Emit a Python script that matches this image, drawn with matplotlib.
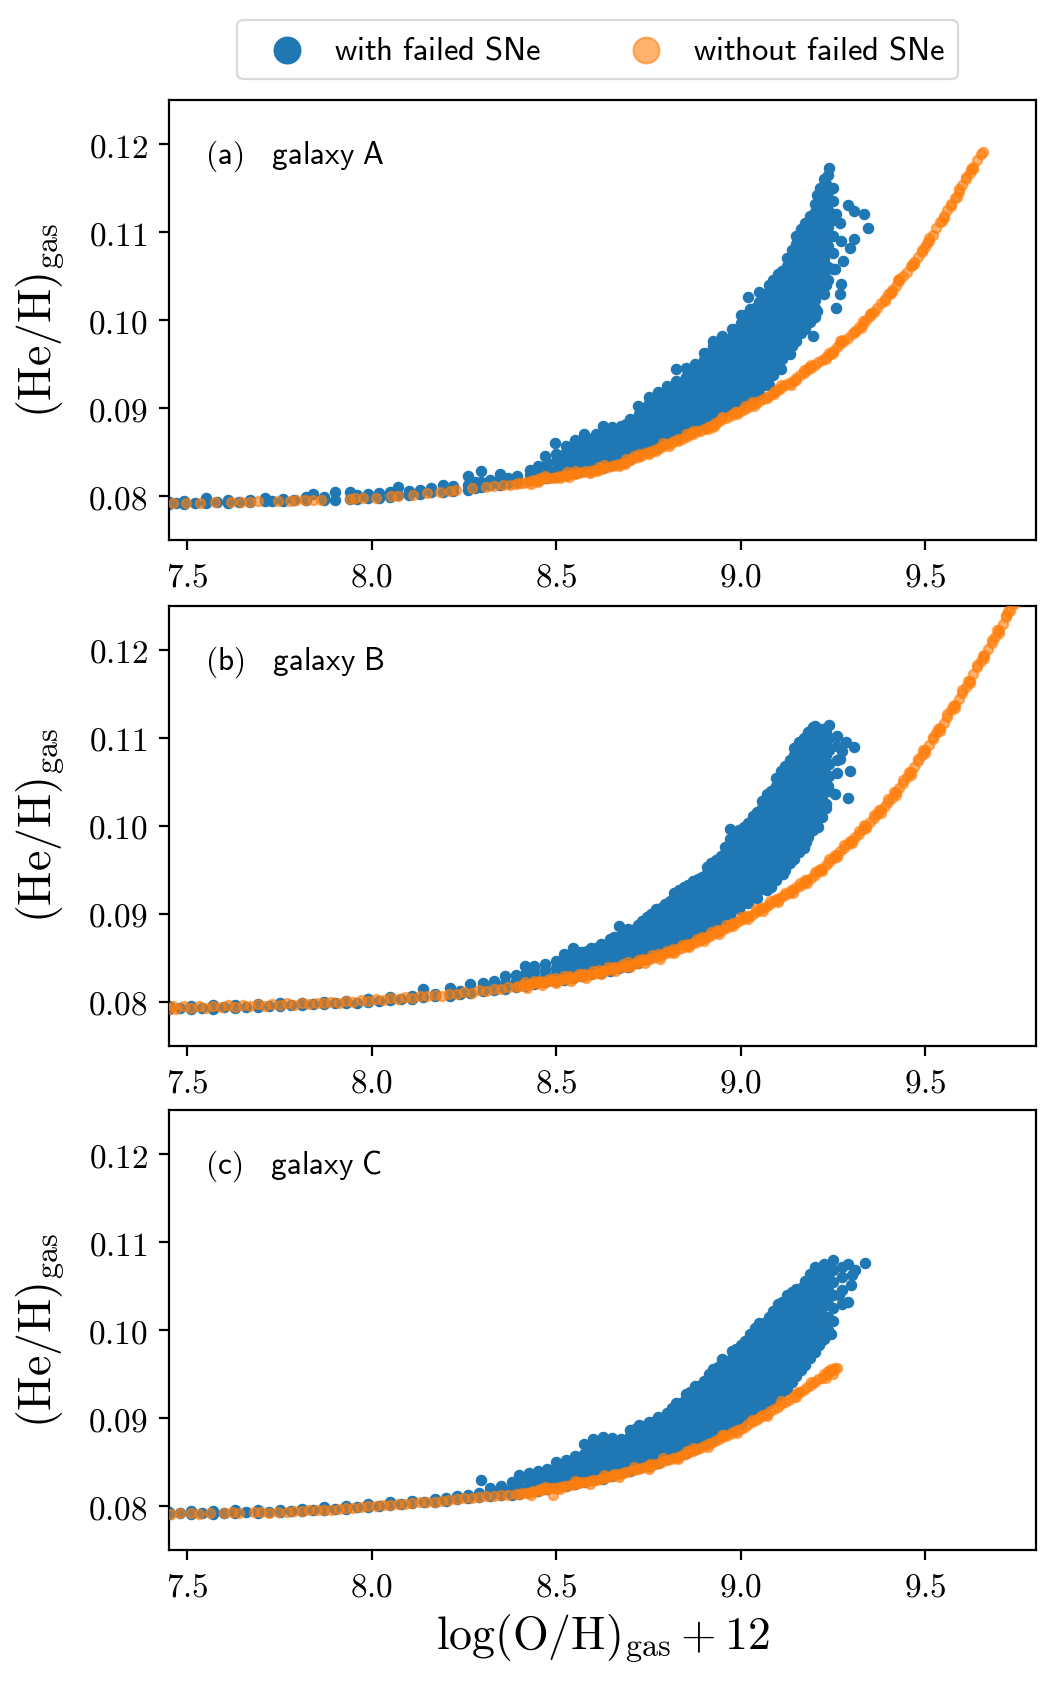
import matplotlib
matplotlib.use("Agg")
import matplotlib.pyplot as plt

plt.rcParams["mathtext.fontset"] = "cm"
plt.rcParams["font.family"] = ["DejaVu Sans"]

# ---------------------------------------------------------------- labels
XTICKS = [7.5, 8.0, 8.5, 9.0, 9.5]
XTICK_LABELS = ["7.5", "8.0", "8.5", "9.0", "9.5"]
YTICKS = [0.08, 0.09, 0.10, 0.11, 0.12]
YTICK_LABELS = ["0.08", "0.09", "0.10", "0.11", "0.12"]
PANEL_TAGS = ["(a)", "(b)", "(c)"]
GALAXIES = ["galaxy A", "galaxy B", "galaxy C"]
SERIES = ["with failed SNe", "without failed SNe"]

# ---------------------------------------------------------------- galaxy A
# with failed SNe: columns (x, [y values read at that x])
A_BLUE = [
    (7.450, [.0791, .0793]), (7.470, [.0792]), (7.490, [.0791, .0794]), (7.520, [.0792]),
    (7.551, [.0792, .0798]), (7.580, [.0793]), (7.610, [.0792, .0795]), (7.640, [.0793]),
    (7.670, [.0793, .0796]), (7.710, [.0794, .0798]), (7.730, [.0794]), (7.760, [.0794, .0797]),
    (7.790, [.0795]), (7.820, [.0795, .0799]), (7.840, [.0802]), (7.870, [.0796, .0799]),
    (7.899, [.0796, .0804]), (7.940, [.0797, .0805]), (7.960, [.0797, .0801]), (7.990, [.0798, .0802]),
    (8.020, [.0798, .0803]), (8.050, [.0799, .0804]), (8.071, [.0801, .0810]), (8.100, [.0801, .0806]),
    (8.130, [.0802, .0807]), (8.160, [.0804, .0809]), (8.193, [.0805, .0813]), (8.220, [.0806, .0811]),
    (8.260, [.0807, .0813, .0823]), (8.280, [.0809, .0816]), (8.297, [.0810, .0816, .0828]),
    (8.320, [.0812, .0818]), (8.346, [.0813, .0819, .0825]), (8.370, [.0815, .0821]),
    (8.392, [.0816, .0823]), (8.428, [.0818, .0824, .0830]),
    (8.450, [.0818, .0826, .0834]), (8.468, [.0845]), (8.475, [.0820, .0829, .0837]), (8.496, [.0860]),
    (8.500, [.0822, .0830, .0840, .0848]), (8.525, [.0824, .0832, .0841, .0850, .0857]),
    (8.550, [.0826, .0835, .0843, .0853, .0864]), (8.575, [.0828, .0838, .0846, .0854, .0862, .0870]),
    (8.600, [.0830, .0839, .0849, .0858, .0866]), (8.608, [.0870]),
    (8.625, [.0832, .0842, .0851, .0859, .0869, .0880]), (8.650, [.0835, .0844, .0853, .0863, .0871, .0878]),
    (8.676, [.0838, .0848, .0856, .0865, .0874, .0880]), (8.700, [.0842, .0851, .0861, .0869, .0878, .0887]),
    (8.721, [.0902]), (8.725, [.0847, .0856, .0864, .0874, .0883, .0893]),
    (8.750, [.0852, .0861, .0869, .0879, .0888, .0896, .0906, .0912]),
    (8.775, [.0856, .0865, .0875, .0883, .0893, .0902, .0910, .0918]),
    (8.800, [.0861, .0870, .0878, .0888, .0898, .0906, .0916, .0925]),
    (8.825, [.0866, .0875, .0885, .0893, .0903, .0911, .0921, .0931, .0944]),
    (8.850, [.0870, .0880, .0889, .0897, .0907, .0917, .0925, .0935, .0946]),
    (8.875, [.0875, .0884, .0894, .0904, .0912, .0922, .0930, .0940, .0950]),
    (8.900, [.0881, .0890, .0900, .0909, .0917, .0927, .0937, .0946, .0955, .0962]),
    (8.925, [.0886, .0896, .0904, .0914, .0924, .0933, .0943, .0951, .0961, .0970, .0976]),
    (8.950, [.0892, .0901, .0911, .0920, .0929, .0938, .0948, .0958, .0966, .0975, .0982]),
    (8.975, [.0897, .0907, .0916, .0925, .0934, .0944, .0954, .0963, .0971, .0981, .0990]),
    (9.000, [.0903, .0912, .0921, .0931, .0941, .0950, .0959, .0969, .0979, .0988, .0997, .1006]),
    (9.019, [.1026]),
    (9.025, [.0910, .0920, .0929, .0938, .0947, .0957, .0967, .0976, .0985, .0995, .1004, .1013]),
    (9.050, [.0916, .0925, .0935, .0945, .0954, .0964, .0974, .0983, .0992, .1002, .1012, .1021, .1032]),
    (9.075, [.0926, .0935, .0944, .0955, .0965, .0974, .0983, .0994, .1004, .1013, .1022, .1031, .1040]),
    (9.100, [.0944, .0953, .0963, .0972, .0983, .0993, .1002, .1013, .1022, .1032, .1042, .1052]),
    (9.125, [.0961, .0971, .0980, .0991, .1001, .1011, .1020, .1031, .1041, .1050, .1061, .1070]),
    (9.150, [.0976, .0986, .0995, .1006, .1016, .1025, .1036, .1046, .1055, .1066, .1076, .1086, .1096]),
    (9.175, [.0990, .1000, .1011, .1020, .1030, .1041, .1050, .1060, .1071, .1080, .1090, .1100, .1110]),
    (9.200, [.1003, .1014, .1023, .1033, .1044, .1053, .1063, .1074, .1083, .1093, .1104, .1113, .1123, .1132]),
    (9.215, [.1040, .1061, .1080, .1101, .1120, .1139, .1150]),
    (9.225, [.1030, .1051, .1069, .1090, .1110, .1129, .1145, .1160]),
    (9.235, [.1060, .1084, .1106, .1125, .1146, .1165]), (9.240, [.1173]),
    (9.250, [.1058, .1076, .1095, .1114, .1135, .1150]),
    (9.272, [.1041, .1090]), (9.268, [.1029, .1110]), (9.259, [.1014, .1120]), (9.222, [.1031]),
    (9.195, [.0982]), (9.164, [.0987]), (9.137, [.0976]), (9.132, [.0961]), (9.110, [.0944]),
    (9.046, [.0934]), (9.042, [.0914]), (9.015, [.0919]), (9.236, [.1046]), (9.254, [.1058]),
    (9.290, [.1131]), (9.308, [.1124, .1092]), (9.335, [.1120]), (9.344, [.1104]),
    (9.295, [.1082]), (9.277, [.1067]),
]
# denser interior of the galaxy A cloud
A_BLUE_CORE = [
    (8.5125, [.0827, .0836, .0845]), (8.5375, [.0829, .0838, .0847, .0856]),
    (8.5625, [.0831, .0840, .0849, .0858]), (8.5875, [.0834, .0843, .0851, .0860]),
    (8.6125, [.0836, .0845, .0854, .0863]), (8.6375, [.0838, .0847, .0856, .0865, .0873]),
    (8.6625, [.0841, .0850, .0859, .0868, .0875]), (8.6875, [.0845, .0855, .0864, .0873, .0882]),
    (8.7125, [.0849, .0858, .0867, .0876, .0885]), (8.7375, [.0854, .0864, .0872, .0881, .0890, .0900]),
    (8.7625, [.0859, .0868, .0877, .0887, .0896, .0905]),
    (8.7875, [.0863, .0872, .0881, .0891, .0900, .0909, .0917]),
    (8.8125, [.0868, .0877, .0886, .0896, .0905, .0914, .0922]),
    (8.8375, [.0872, .0882, .0891, .0901, .0910, .0920, .0930]),
    (8.8625, [.0877, .0886, .0895, .0905, .0914, .0924, .0934, .0942]),
    (8.8875, [.0882, .0892, .0901, .0911, .0920, .0930, .0940, .0949]),
    (8.9125, [.0888, .0897, .0907, .0916, .0926, .0935, .0945, .0955, .0963]),
    (8.9375, [.0894, .0903, .0913, .0922, .0932, .0941, .0951, .0961, .0970]),
    (8.9625, [.0899, .0909, .0918, .0928, .0937, .0947, .0957, .0966, .0976]),
    (8.9875, [.0905, .0914, .0924, .0934, .0943, .0953, .0963, .0972, .0982, .0990]),
    (9.0125, [.0912, .0921, .0931, .0941, .0950, .0960, .0970, .0979, .0989, .0999, .1006]),
    (9.0375, [.0918, .0928, .0937, .0947, .0957, .0966, .0976, .0986, .0995, .1005, .1014]),
    (9.0625, [.0926, .0935, .0945, .0955, .0964, .0974, .0984, .0993, .1003, .1013, .1022, .1030]),
    (9.0875, [.0938, .0948, .0958, .0968, .0978, .0988, .0998, .1008, .1018, .1028, .1037, .1045]),
    (9.1125, [.0956, .0966, .0976, .0986, .0996, .1006, .1016, .1026, .1036, .1046, .1056]),
    (9.1375, [.0971, .0981, .0991, .1001, .1011, .1021, .1031, .1041, .1051, .1061, .1071, .1080]),
    (9.1625, [.0985, .0995, .1005, .1015, .1025, .1035, .1045, .1055, .1065, .1075, .1085, .1095, .1103]),
    (9.1875, [.0998, .1008, .1018, .1028, .1038, .1048, .1058, .1068, .1078, .1088, .1098, .1108, .1118]),
    (9.2075, [.1010, .1030, .1050, .1070, .1090, .1110, .1130, .1142]),
    (9.2300, [.1040, .1060, .1080, .1100, .1120, .1140, .1155]),
]
# without failed SNe: (x, y) points
A_ORANGE = [
    (7.462, .07920), (7.497, .07922), (7.533, .07925), (7.574, .07930), (7.619, .07930), (7.646, .07932),
    (7.669, .07936), (7.691, .07940), (7.746, .07942), (7.777, .07946), (7.795, .07950), (7.818, .07952),
    (7.840, .07958), (7.863, .07960), (7.940, .07968), (7.953, .07972), (7.976, .07978), (8.012, .07982),
    (8.053, .07995), (8.071, .08000), (8.111, .08015), (8.148, .08030), (8.184, .08048), (8.211, .08060),
    (8.229, .08068), (8.270, .08088), (8.310, .08100), (8.330, .08112), (8.355, .08120), (8.375, .08130),
    (8.391, .08138),
    (8.40, .0815), (8.41, .08148), (8.42, .0816), (8.43, .0817), (8.44, .08185), (8.45, .0818), (8.46, .0819),
    (8.47, .08205), (8.48, .0820), (8.49, .0821), (8.50, .0822), (8.51, .08225), (8.52, .0823), (8.53, .0824),
    (8.54, .0825), (8.55, .08245), (8.56, .0826), (8.57, .0827), (8.58, .0828), (8.59, .08275), (8.60, .0829),
    (8.61, .0830), (8.62, .0831), (8.63, .0832), (8.64, .08335), (8.65, .0834), (8.66, .0835), (8.67, .0836),
    (8.68, .0838), (8.69, .08385), (8.70, .0841), (8.71, .0843), (8.72, .0844), (8.73, .0846), (8.74, .08485),
    (8.75, .0850), (8.76, .0851), (8.77, .0853), (8.78, .0855), (8.79, .0857), (8.80, .0859), (8.81, .0860),
    (8.82, .0862), (8.83, .08645), (8.84, .0865), (8.85, .0867), (8.86, .0869), (8.87, .0871), (8.88, .08735),
    (8.89, .0874), (8.90, .0876), (8.91, .0878), (8.92, .0880), (8.93, .0883), (8.94, .0885), (8.95, .0887),
    (8.96, .08885), (8.97, .0891), (8.98, .0893), (8.99, .0895), (9.00, .0897), (9.01, .0899), (9.02, .0901),
    (9.03, .0904), (9.04, .0906), (9.05, .0908), (9.06, .0910), (9.07, .0913), (9.08, .0915), (9.09, .0918),
    (9.10, .0920), (9.11, .0923), (9.12, .0926), (9.13, .0928), (9.14, .0931), (9.15, .0934), (9.16, .0937),
    (9.17, .0940), (9.18, .0943), (9.19, .0946), (9.20, .0949), (9.21, .0952), (9.22, .0955), (9.23, .0958),
    (9.24, .0962), (9.25, .0965), (9.26, .0969), (9.27, .0973), (9.28, .0976), (9.29, .0980), (9.30, .0984),
    (9.31, .0988), (9.32, .0992), (9.33, .0996), (9.34, .1000), (9.35, .1004), (9.36, .1009), (9.37, .1014),
    (9.38, .1019), (9.39, .1024), (9.40, .1029), (9.41, .1034), (9.42, .1039), (9.43, .1044), (9.44, .1050),
    (9.45, .1055), (9.46, .1061), (9.47, .1066), (9.48, .1072), (9.49, .1077), (9.50, .1083), (9.51, .1090),
    (9.52, .1097), (9.53, .1104), (9.54, .1111), (9.55, .1118), (9.56, .1125), (9.57, .1132), (9.58, .1139),
    (9.59, .1146), (9.60, .1153), (9.61, .1160), (9.62, .1167), (9.63, .1174), (9.64, .1182), (9.65, .1189),
    (8.455, .0821), (8.535, .0822), (8.615, .0833), (8.685, .0836), (8.725, .0848), (8.805, .0857),
    (8.865, .0872), (8.925, .0878), (8.985, .0896), (9.035, .0902), (9.095, .0921), (9.135, .0926),
    (9.185, .0947), (9.245, .0961), (9.275, .0977), (9.325, .0991), (9.355, .1008), (9.405, .1030),
    (9.425, .1045), (9.465, .1062), (9.505, .1088), (9.545, .1113), (9.585, .1140), (9.625, .1172),
    (9.655, .1191),
]
# points lying off the middle of the galaxy A band (its width)
A_ORANGE_SPREAD = [
    (8.43, .0814), (8.47, .0823), (8.51, .0820), (8.55, .0828), (8.59, .0826), (8.63, .0835), (8.67, .0834),
    (8.71, .0846), (8.75, .0848), (8.79, .0860), (8.83, .0862), (8.87, .0874), (8.91, .0876), (8.95, .0890),
    (8.99, .0893), (9.03, .0907), (9.07, .0911), (9.11, .0926), (9.15, .0932), (9.19, .0949), (9.23, .0956),
    (9.27, .0976), (9.31, .0986), (9.35, .1007), (9.39, .1022), (9.43, .1047), (9.47, .1064), (9.51, .1093),
    (9.55, .1116), (9.59, .1149), (9.63, .1172),
    (8.45, .0816), (8.53, .0827), (8.61, .0828), (8.69, .0842), (8.77, .0851), (8.85, .0870), (8.93, .0881),
    (9.01, .0902), (9.09, .0916), (9.17, .0943), (9.25, .0963), (9.33, .0999), (9.41, .1032), (9.49, .1080),
    (9.57, .1130), (9.61, .1163),
]

# ---------------------------------------------------------------- galaxy B
B_BLUE = [
    (7.45, [.0792, .0795]), (7.48, [.0793]), (7.51, [.0792, .0795]), (7.54, [.0793]), (7.57, [.0792, .0796]),
    (7.60, [.0794]), (7.63, [.0793, .0796]), (7.66, [.0794]), (7.69, [.0794, .0797]), (7.72, [.0795]),
    (7.75, [.0795, .0798]), (7.78, [.0796]), (7.81, [.0796, .0799]), (7.84, [.0797]), (7.87, [.0797, .0800]),
    (7.90, [.0798]), (7.93, [.0799, .0801]), (7.96, [.0799]), (7.99, [.0800, .0803]), (8.02, [.0801]),
    (8.05, [.0802, .0805]), (8.08, [.0803]), (8.11, [.0803, .0807]), (8.139, [.0805, .0814]),
    (8.17, [.0806, .0809]), (8.211, [.0807, .0816]), (8.24, [.0809, .0812]), (8.265, [.0810, .0820]),
    (8.30, [.0812, .0816, .0821]), (8.33, [.0813, .0818, .0823]), (8.36, [.0815, .0821, .0829]),
    (8.39, [.0817, .0824, .0830]), (8.414, [.0818, .0825, .0832, .0841]), (8.44, [.0820, .0827, .0834, .0841]),
    (8.47, [.0822, .0829, .0836, .0843]), (8.50, [.0824, .0831, .0838, .0846]),
    (8.52, [.0825, .0833, .0841, .0849, .0854]), (8.545, [.0827, .0835, .0844, .0852, .0861]),
    (8.57, [.0829, .0837, .0846, .0856]), (8.595, [.0831, .0839, .0848, .0855, .0861]),
    (8.62, [.0833, .0842, .0850, .0858, .0866]), (8.645, [.0835, .0843, .0852, .0862, .0871]),
    (8.67, [.0838, .0846, .0855, .0864, .0873, .0886]), (8.695, [.0840, .0849, .0857, .0866, .0875, .0883]),
    (8.72, [.0844, .0851, .0860, .0869, .0879, .0887]), (8.745, [.0848, .0855, .0864, .0872, .0881, .0890, .0896]),
    (8.77, [.0856, .0862, .0869, .0878, .0887, .0896, .0905]),
    (8.795, [.0862, .0869, .0876, .0885, .0894, .0903, .0911]),
    (8.82, [.0866, .0874, .0883, .0892, .0901, .0910, .0918, .0924]),
    (8.845, [.0870, .0878, .0887, .0896, .0905, .0915, .0923, .0930]),
    (8.87, [.0875, .0884, .0893, .0902, .0912, .0920, .0929, .0937]),
    (8.895, [.0880, .0889, .0898, .0907, .0916, .0925, .0935, .0942]),
    (8.92, [.0886, .0895, .0904, .0913, .0922, .0931, .0940, .0950, .0958]),
    (8.945, [.0892, .0901, .0910, .0919, .0928, .0938, .0946, .0955, .0966]),
    (8.97, [.0898, .0907, .0916, .0925, .0934, .0943, .0952, .0962, .0970, .0985, .0996]),
    (8.995, [.0905, .0914, .0923, .0932, .0941, .0950, .0960, .0968, .0977, .0986, .0995]),
    (9.02, [.0912, .0921, .0930, .0939, .0948, .0958, .0966, .0975, .0984, .0994, .1003]),
    (9.045, [.0918, .0927, .0936, .0945, .0955, .0963, .0972, .0981, .0991, .0999, .1008, .1016]),
    (9.07, [.0927, .0934, .0943, .0952, .0961, .0971, .0979, .0988, .0997, .1007, .1015, .1024, .1036]),
    (9.095, [.0938, .0945, .0954, .0963, .0973, .0981, .0990, .0999, .1009, .1017, .1026, .1035, .1045, .1054]),
    (9.12, [.0950, .0959, .0968, .0978, .0986, .0995, .1005, .1013, .1022, .1031, .1041, .1049, .1058, .1068]),
    (9.145, [.0962, .0971, .0980, .0990, .0998, .1007, .1017, .1025, .1034, .1044, .1052, .1061, .1071, .1080, .1088]),
    (9.17, [.0975, .0984, .0993, .1003, .1011, .1020, .1030, .1038, .1047, .1057, .1065, .1074, .1084, .1092, .1100]),
    (9.195, [.0995, .1004, .1014, .1022, .1031, .1041, .1049, .1058, .1068, .1076, .1085, .1095, .1103, .1112]),
    (9.22, [.1010, .1021, .1030, .1040, .1051, .1060, .1070, .1081, .1090, .1100, .1110]),
    (9.24, [.1040, .1056, .1070, .1086, .1100, .1115]), (9.26, [.1060, .1075, .1091, .1102]),
    (9.308, [.1089]), (9.286, [.1095]), (9.295, [.1062]), (9.290, [.1032]), (9.254, [.1036]),
    (9.236, [.1045]), (9.268, [.1076]), (9.275, [.1085]), (9.200, [.1113]), (9.177, [.0981]),
    (9.195, [.1006]), (9.114, [.0945]), (9.083, [.0930]), (9.033, [.0920]), (8.997, [.0909]),
    (8.915, [.0886]), (9.210, [.0998]), (9.230, [.1020]),
]
B_BLUE_CORE = [
    (8.5325, [.0829, .0837, .0845, .0852]), (8.5575, [.0831, .0840, .0848, .0856]),
    (8.5825, [.0833, .0842, .0850, .0858]), (8.6075, [.0835, .0844, .0853, .0861]),
    (8.6325, [.0837, .0846, .0855, .0864]), (8.6575, [.0840, .0849, .0858, .0867, .0874]),
    (8.6825, [.0843, .0852, .0861, .0870, .0879]), (8.7075, [.0846, .0855, .0864, .0873, .0882]),
    (8.7325, [.0850, .0859, .0868, .0877, .0886, .0892]), (8.7575, [.0858, .0866, .0874, .0883, .0892, .0900]),
    (8.7825, [.0864, .0872, .0880, .0889, .0898, .0907]), (8.8075, [.0868, .0878, .0887, .0896, .0905, .0914]),
    (8.8325, [.0872, .0882, .0891, .0900, .0910, .0919, .0927]),
    (8.8575, [.0877, .0887, .0896, .0906, .0915, .0925, .0933]),
    (8.8825, [.0882, .0892, .0902, .0911, .0921, .0930, .0939]),
    (8.9075, [.0888, .0898, .0908, .0917, .0927, .0936, .0946, .0953]),
    (8.9325, [.0894, .0904, .0914, .0923, .0933, .0942, .0951, .0961]),
    (8.9575, [.0900, .0910, .0920, .0929, .0939, .0948, .0957, .0967, .0976]),
    (8.9825, [.0907, .0917, .0927, .0936, .0946, .0955, .0964, .0973, .0982, .0991]),
    (9.0075, [.0914, .0924, .0934, .0943, .0953, .0962, .0971, .0980, .0989, .0998]),
    (9.0325, [.0921, .0931, .0941, .0950, .0959, .0968, .0977, .0986, .0995, .1004, .1011]),
    (9.0575, [.0928, .0938, .0948, .0957, .0966, .0975, .0984, .0993, .1002, .1011, .1020, .1028]),
    (9.0825, [.0936, .0946, .0956, .0965, .0974, .0983, .0992, .1001, .1011, .1020, .1029, .1040]),
    (9.1075, [.0946, .0955, .0964, .0973, .0982, .0991, .1000, .1009, .1018, .1027, .1036, .1045, .1054, .1062]),
    (9.1325, [.0958, .0967, .0976, .0985, .0994, .1003, .1012, .1021, .1030, .1039, .1048, .1057, .1066, .1075]),
    (9.1575, [.0970, .0979, .0988, .0997, .1006, .1015, .1024, .1033, .1042, .1051, .1060, .1069, .1078, .1088, .1095]),
    (9.1825, [.0987, .0996, .1005, .1014, .1023, .1032, .1041, .1050, .1059, .1068, .1077, .1086, .1096, .1106]),
    (9.2075, [.1005, .1015, .1025, .1035, .1045, .1055, .1065, .1075, .1085, .1095, .1105]),
    (9.2300, [.1025, .1040, .1055, .1068, .1080, .1093, .1106]),
]
B_ORANGE = [
    (7.45, .0792), (7.46, .0795), (7.47, .0792), (7.49, .0795), (7.51, .0793), (7.53, .0795), (7.55, .0793),
    (7.57, .0795), (7.59, .0794), (7.61, .0796), (7.63, .0794), (7.65, .0796), (7.67, .0795), (7.69, .0797),
    (7.71, .0795), (7.73, .0797), (7.75, .0796), (7.77, .0798), (7.79, .0796), (7.81, .0799), (7.83, .0797),
    (7.85, .0799), (7.87, .0798), (7.89, .0800), (7.91, .0799), (7.93, .0801), (7.95, .0800), (7.97, .0802),
    (7.99, .0801), (8.01, .0803), (8.03, .0802), (8.05, .0804), (8.07, .0803), (8.09, .0805), (8.11, .0804),
    (8.13, .0806), (8.15, .0806), (8.17, .0808), (8.19, .0807), (8.21, .0809), (8.23, .0809), (8.25, .0811),
    (8.27, .0810), (8.29, .0813), (8.31, .0812), (8.33, .0815), (8.35, .0814), (8.37, .0817), (8.39, .0817),
    (8.40, .0818), (8.41, .0819), (8.42, .0819), (8.43, .0820), (8.44, .0821), (8.45, .0821), (8.46, .0822),
    (8.47, .0822), (8.48, .0823), (8.49, .0823), (8.50, .0824), (8.51, .0825), (8.52, .0826), (8.53, .0826),
    (8.54, .0827), (8.55, .0828), (8.56, .0829), (8.57, .0829), (8.58, .0830), (8.59, .0831), (8.60, .0832),
    (8.61, .0833), (8.62, .0834), (8.63, .0835), (8.64, .0836), (8.65, .0837), (8.66, .0838), (8.67, .0839),
    (8.68, .0840), (8.69, .0841), (8.70, .0842), (8.71, .0843), (8.72, .0844), (8.73, .0846), (8.74, .0847),
    (8.75, .0848), (8.76, .0850), (8.77, .0851), (8.78, .0852), (8.79, .0854), (8.80, .0855), (8.81, .0857),
    (8.82, .0858), (8.83, .0860), (8.84, .0861), (8.85, .0863), (8.86, .0865), (8.87, .0867), (8.88, .0868),
    (8.89, .0870), (8.90, .0872), (8.91, .0874), (8.92, .0876), (8.93, .0878), (8.94, .0880), (8.95, .0882),
    (8.96, .0884), (8.97, .0886), (8.98, .0889), (8.99, .0891), (9.00, .0893), (9.01, .0895), (9.02, .0897),
    (9.03, .0899), (9.04, .0902), (9.05, .0904), (9.06, .0906), (9.07, .0909), (9.08, .0911), (9.09, .0914),
    (9.10, .0916), (9.11, .0919), (9.12, .0921), (9.13, .0924), (9.14, .0927), (9.15, .0930), (9.16, .0932),
    (9.17, .0935), (9.18, .0938), (9.19, .0941), (9.20, .0944), (9.21, .0948), (9.22, .0951), (9.23, .0955),
    (9.24, .0959), (9.25, .0963), (9.26, .0967), (9.27, .0971), (9.28, .0975), (9.29, .0979), (9.30, .0983),
    (9.31, .0987), (9.32, .0991), (9.33, .0996), (9.34, .1000), (9.35, .1004), (9.36, .1009), (9.37, .1013),
    (9.38, .1018), (9.39, .1022), (9.40, .1027), (9.41, .1032), (9.42, .1038), (9.43, .1043), (9.44, .1049),
    (9.45, .1055), (9.46, .1061), (9.47, .1067), (9.48, .1073), (9.49, .1080), (9.50, .1086), (9.51, .1092),
    (9.52, .1098), (9.53, .1105), (9.54, .1111), (9.55, .1117), (9.56, .1124), (9.57, .1131), (9.58, .1137),
    (9.59, .1144), (9.60, .1151), (9.61, .1158), (9.62, .1165), (9.63, .1172), (9.64, .1180), (9.65, .1187),
    (9.66, .1194), (9.67, .1201), (9.68, .1208), (9.69, .1215), (9.70, .1222), (9.71, .1229), (9.72, .1237),
    (9.73, .1244), (9.74, .1252),
    (8.415, .0822), (8.455, .0824), (8.495, .0827), (8.535, .0829), (8.575, .0832), (8.615, .0836),
    (8.655, .0840), (8.695, .0845), (8.735, .0849), (8.775, .0854), (8.815, .0860), (8.855, .0866),
    (8.895, .0874), (8.935, .0881), (8.975, .0888), (9.015, .0897), (9.055, .0906), (9.095, .0917),
    (9.135, .0927), (9.175, .0938), (9.215, .0951), (9.255, .0967), (9.295, .0983), (9.335, .1001),
    (9.375, .1018), (9.415, .1038), (9.455, .1061), (9.495, .1086), (9.535, .1110), (9.575, .1136),
    (9.615, .1164), (9.655, .1193), (9.695, .1222), (9.725, .1244),
]
B_ORANGE_SPREAD = [
    (8.42, .0816), (8.46, .0819), (8.50, .0821), (8.54, .0824), (8.58, .0827), (8.62, .0831), (8.66, .0835),
    (8.70, .0839), (8.74, .0844), (8.78, .0849), (8.82, .0855), (8.86, .0862), (8.90, .0869), (8.94, .0877),
    (8.98, .0886), (9.02, .0894), (9.06, .0903), (9.10, .0913), (9.14, .0924), (9.18, .0935), (9.22, .0948),
    (9.26, .0964), (9.30, .0980), (9.34, .0997), (9.38, .1015), (9.42, .1035), (9.46, .1058), (9.50, .1083),
    (9.54, .1108), (9.58, .1134), (9.62, .1162), (9.66, .1191), (9.70, .1219),
    (8.44, .0824), (8.48, .0826), (8.52, .0829), (8.56, .0832), (8.60, .0835), (8.64, .0839), (8.68, .0843),
    (8.72, .0847), (8.76, .0853), (8.80, .0858), (8.84, .0864), (8.88, .0871), (8.92, .0879), (8.96, .0887),
    (9.00, .0896), (9.04, .0905), (9.08, .0914), (9.12, .0924), (9.16, .0935), (9.20, .0947), (9.24, .0962),
    (9.28, .0978), (9.32, .0994), (9.36, .1012), (9.40, .1030), (9.44, .1052), (9.48, .1076), (9.52, .1101),
    (9.56, .1127), (9.60, .1154), (9.64, .1183), (9.68, .1211), (9.72, .1240),
]

# ---------------------------------------------------------------- galaxy C
C_BLUE = [
    (7.45, [.0791, .0793]), (7.48, [.0792]), (7.51, [.0791, .0794]), (7.54, [.0792]), (7.57, [.0791, .0794]),
    (7.60, [.0792]), (7.63, [.0792, .0795]), (7.66, [.0793]), (7.69, [.0792, .0795]), (7.72, [.0793]),
    (7.75, [.0793, .0796]), (7.78, [.0794]), (7.81, [.0794, .0797]), (7.84, [.0795]), (7.87, [.0796, .0799]),
    (7.90, [.0797]), (7.93, [.0797, .0800]), (7.96, [.0799]), (7.99, [.0799, .0802]), (8.02, [.0800]),
    (8.05, [.0801, .0804]), (8.08, [.0802]), (8.11, [.0803, .0806]), (8.14, [.0804]), (8.17, [.0805, .0808]),
    (8.20, [.0806, .0809]), (8.23, [.0808, .0811]), (8.26, [.0809, .0813]), (8.297, [.0829]),
    (8.29, [.0810, .0815]), (8.32, [.0811, .0816, .0821]), (8.35, [.0812, .0818, .0823]),
    (8.38, [.0813, .0820, .0827]), (8.40, [.0814, .0822, .0829, .0835]), (8.425, [.0816, .0823, .0830, .0837]),
    (8.45, [.0817, .0824, .0832, .0840]), (8.475, [.0819, .0826, .0834, .0842]),
    (8.50, [.0821, .0828, .0836, .0844, .0850]), (8.525, [.0823, .0830, .0838, .0846, .0852]),
    (8.55, [.0825, .0833, .0841, .0849, .0857]), (8.575, [.0827, .0835, .0843, .0851, .0859, .0870]),
    (8.60, [.0829, .0837, .0845, .0853, .0861, .0869, .0876]),
    (8.625, [.0831, .0839, .0848, .0856, .0864, .0872, .0878]),
    (8.65, [.0834, .0842, .0850, .0858, .0866, .0873, .0877]),
    (8.675, [.0837, .0845, .0853, .0861, .0869, .0876]),
    (8.70, [.0840, .0848, .0856, .0864, .0872, .0880, .0886]),
    (8.725, [.0843, .0851, .0859, .0868, .0876, .0884, .0892]),
    (8.75, [.0846, .0854, .0863, .0871, .0880, .0888, .0896]),
    (8.775, [.0849, .0857, .0866, .0875, .0884, .0892, .0901]),
    (8.80, [.0853, .0861, .0870, .0879, .0888, .0897, .0906]),
    (8.825, [.0856, .0865, .0874, .0883, .0892, .0901, .0910, .0917]),
    (8.85, [.0860, .0869, .0878, .0887, .0896, .0905, .0914, .0923, .0927]),
    (8.875, [.0865, .0874, .0883, .0892, .0901, .0910, .0919, .0928, .0936]),
    (8.90, [.0870, .0879, .0888, .0897, .0906, .0915, .0924, .0933, .0942]),
    (8.925, [.0875, .0884, .0893, .0902, .0911, .0920, .0929, .0938, .0947, .0956]),
    (8.95, [.0881, .0890, .0899, .0908, .0917, .0926, .0935, .0944, .0953, .0962, .0967]),
    (8.975, [.0887, .0896, .0905, .0914, .0923, .0932, .0941, .0950, .0959, .0968, .0976]),
    (9.00, [.0893, .0902, .0911, .0920, .0929, .0938, .0947, .0956, .0965, .0974, .0983]),
    (9.025, [.0905, .0914, .0923, .0932, .0941, .0950, .0959, .0968, .0977, .0986, .0995]),
    (9.05, [.0910, .0919, .0928, .0937, .0946, .0955, .0964, .0973, .0982, .0991, .1000, .1008]),
    (9.075, [.0917, .0926, .0935, .0944, .0953, .0962, .0971, .0980, .0989, .0998, .1007, .1015]),
    (9.10, [.0925, .0934, .0943, .0952, .0961, .0970, .0979, .0988, .0997, .1006, .1015, .1024, .1030]),
    (9.125, [.0933, .0942, .0951, .0960, .0969, .0978, .0987, .0996, .1005, .1014, .1023, .1032, .1040]),
    (9.15, [.0948, .0957, .0966, .0975, .0984, .0993, .1002, .1011, .1020, .1029, .1038, .1047]),
    (9.175, [.0960, .0969, .0978, .0987, .0996, .1005, .1014, .1023, .1032, .1041, .1050, .1056]),
    (9.20, [.0975, .0985, .0995, .1005, .1015, .1025, .1035, .1045, .1055, .1065, .1072]),
    (9.225, [.0990, .1003, .1015, .1027, .1039, .1051, .1063, .1075]),
    (9.25, [.1010, .1025, .1040, .1055, .1068, .1079]), (9.275, [.1030, .1045, .1060, .1072]),
    (9.336, [.1076]), (9.290, [.1075, .1032]), (9.299, [.1051]), (9.245, [.0995]), (9.223, [.1013]),
    (9.218, [.0988]), (9.168, [.0961]), (9.141, [.0946]), (9.123, [.0933]), (9.101, [.0925]),
    (9.024, [.0905]), (8.988, [.0893]), (9.300, [.1062]), (9.310, [.1068]), (9.265, [.1040]),
]
C_BLUE_CORE = [
    (8.5125, [.0825, .0832, .0840, .0847]), (8.5375, [.0827, .0835, .0843, .0850]),
    (8.5625, [.0829, .0837, .0845, .0853]), (8.5875, [.0831, .0839, .0848, .0856, .0864]),
    (8.6125, [.0833, .0841, .0850, .0858, .0866]), (8.6375, [.0836, .0844, .0852, .0861, .0869]),
    (8.6625, [.0839, .0847, .0855, .0863, .0870]), (8.6875, [.0842, .0850, .0859, .0867, .0875]),
    (8.7125, [.0845, .0853, .0862, .0871, .0879, .0887]), (8.7375, [.0848, .0857, .0865, .0874, .0883, .0891]),
    (8.7625, [.0851, .0860, .0869, .0878, .0887, .0896]), (8.7875, [.0855, .0864, .0873, .0882, .0891, .0900]),
    (8.8125, [.0858, .0867, .0876, .0886, .0895, .0904, .0911]),
    (8.8375, [.0862, .0871, .0880, .0890, .0899, .0908, .0917]),
    (8.8625, [.0866, .0876, .0885, .0894, .0903, .0913, .0922, .0930]),
    (8.8875, [.0871, .0880, .0890, .0899, .0908, .0918, .0927, .0936]),
    (8.9125, [.0876, .0886, .0895, .0905, .0914, .0924, .0933, .0942, .0950]),
    (8.9375, [.0882, .0892, .0901, .0911, .0920, .0930, .0939, .0949, .0958]),
    (8.9625, [.0888, .0898, .0907, .0917, .0926, .0936, .0945, .0955, .0964]),
    (8.9875, [.0894, .0904, .0913, .0923, .0932, .0942, .0951, .0961, .0970, .0978]),
    (9.0125, [.0901, .0910, .0920, .0929, .0939, .0948, .0958, .0967, .0977, .0987]),
    (9.0375, [.0908, .0917, .0927, .0936, .0946, .0955, .0965, .0974, .0984, .0994, .1002]),
    (9.0625, [.0914, .0923, .0933, .0942, .0952, .0961, .0971, .0980, .0990, .1000, .1008]),
    (9.0875, [.0921, .0930, .0940, .0949, .0959, .0968, .0978, .0987, .0997, .1006, .1015, .1022]),
    (9.1125, [.0930, .0939, .0949, .0958, .0968, .0977, .0987, .0996, .1006, .1015, .1025, .1032]),
    (9.1375, [.0941, .0950, .0960, .0969, .0979, .0988, .0998, .1007, .1017, .1026, .1036, .1043]),
    (9.1625, [.0954, .0963, .0973, .0982, .0992, .1001, .1011, .1020, .1030, .1039, .1048]),
    (9.1875, [.0968, .0978, .0988, .0998, .1008, .1018, .1028, .1038, .1048, .1058, .1064]),
    (9.2125, [.0983, .0995, .1007, .1019, .1031, .1043, .1055, .1067]),
    (9.2375, [.1000, .1015, .1030, .1045, .1060, .1072]),
]
C_ORANGE = [
    (7.455, .0791), (7.480, .0792), (7.510, .0792), (7.530, .0791), (7.560, .0792), (7.600, .0792),
    (7.620, .0793), (7.640, .0792), (7.680, .0793), (7.700, .0793), (7.720, .0792), (7.745, .0793),
    (7.770, .0793), (7.790, .0794), (7.810, .0794), (7.830, .0795), (7.850, .0795), (7.870, .0796),
    (7.890, .0796), (7.910, .0797), (7.930, .0798), (7.950, .0798), (7.970, .0799), (7.990, .0800),
    (8.010, .0800), (8.030, .0801), (8.050, .0801), (8.070, .0802), (8.090, .0802), (8.110, .0803),
    (8.130, .0804), (8.150, .0805), (8.170, .0805), (8.190, .0806), (8.210, .0807), (8.230, .0808),
    (8.250, .0809), (8.270, .0809), (8.290, .0810), (8.310, .0811), (8.330, .0811), (8.350, .0812),
    (8.370, .0813), (8.390, .0814),
    (8.40, .0814), (8.41, .0815), (8.42, .0815), (8.43, .0816), (8.44, .0817), (8.45, .0817), (8.46, .0818),
    (8.47, .0819), (8.48, .0820), (8.49, .0820), (8.50, .0821), (8.51, .0822), (8.52, .0823), (8.53, .0823),
    (8.54, .0824), (8.55, .0825), (8.56, .0826), (8.57, .0827), (8.58, .0827), (8.59, .0828), (8.60, .0829),
    (8.61, .0830), (8.62, .0831), (8.63, .0832), (8.64, .0833), (8.65, .0834), (8.66, .0835), (8.67, .0836),
    (8.68, .0838), (8.69, .0839), (8.70, .0840), (8.71, .0841), (8.72, .0842), (8.73, .0843), (8.74, .0844),
    (8.75, .0845), (8.76, .0847), (8.77, .0848), (8.78, .0849), (8.79, .0851), (8.80, .0852), (8.81, .0853),
    (8.82, .0855), (8.83, .0856), (8.84, .0858), (8.85, .0859), (8.86, .0861), (8.87, .0863), (8.88, .0865),
    (8.89, .0866), (8.90, .0868), (8.91, .0870), (8.92, .0872), (8.93, .0874), (8.94, .0876), (8.95, .0878),
    (8.96, .0880), (8.97, .0882), (8.98, .0884), (8.99, .0886), (9.00, .0888), (9.01, .0890), (9.02, .0893),
    (9.03, .0895), (9.04, .0898), (9.05, .0900), (9.06, .0903), (9.07, .0905), (9.08, .0908), (9.09, .0910),
    (9.10, .0913), (9.11, .0916), (9.12, .0918), (9.13, .0921), (9.14, .0924), (9.15, .0927), (9.16, .0930),
    (9.17, .0932), (9.18, .0935), (9.19, .0938), (9.20, .0941), (9.21, .0944), (9.22, .0946), (9.23, .0949),
    (9.24, .0952), (9.25, .0954), (9.26, .0957),
    (8.491, .0812), (9.225, .0950), (9.235, .0953), (9.245, .0956), (9.255, .0957), (9.250, .0950),
    (8.455, .0819), (8.555, .0827), (8.655, .0836), (8.755, .0848), (8.855, .0862), (8.955, .0881),
    (9.055, .0902), (9.155, .0929),
]
C_ORANGE_SPREAD = [
    (8.43, .0813), (8.47, .0822), (8.51, .0819), (8.55, .0828), (8.59, .0825), (8.63, .0835), (8.67, .0833),
    (8.71, .0844), (8.75, .0842), (8.79, .0854), (8.83, .0853), (8.87, .0866), (8.91, .0867), (8.95, .0881),
    (8.99, .0883), (9.03, .0898), (9.07, .0902), (9.11, .0919), (9.15, .0924), (9.19, .0941), (9.23, .0946),
]

PANELS = [(A_BLUE + A_BLUE_CORE, A_ORANGE + A_ORANGE_SPREAD),
          (B_BLUE + B_BLUE_CORE, B_ORANGE + B_ORANGE_SPREAD),
          (C_BLUE + C_BLUE_CORE, C_ORANGE + C_ORANGE_SPREAD)]

BLUE = "#1f77b4"
ORANGE = "#ff7f0e"


def flatten(columns):
    xs, ys = [], []
    for x, yl in columns:
        for y in yl:
            xs.append(x)
            ys.append(y)
    return xs, ys


def sf(text):
    return r"$\mathsf{" + text.replace(" ", r"\ ") + "}$"


fig = plt.figure(figsize=(10.6, 16.89), dpi=100)
W_PX, H_PX = 1060.0, 1689.0
left, width, height = 169 / W_PX, 867 / W_PX, 440 / H_PX
tops = [100, 605.7, 1110]

handles = None
for i, (top, (blue, orange)) in enumerate(zip(tops, PANELS)):
    ax = fig.add_axes([left, 1 - (top + 440) / H_PX, width, height])
    bx, by = flatten(blue)
    ox = [p[0] for p in orange]
    oy = [p[1] for p in orange]
    hb = ax.scatter(bx, by, s=46, color=BLUE, linewidths=1.5, zorder=2, label=sf(SERIES[0]))
    ho = ax.scatter(ox, oy, s=46, color=ORANGE, alpha=0.6, linewidths=1.5, zorder=3, label=sf(SERIES[1]))
    if handles is None:
        handles = [hb, ho]
    ax.set_xlim(7.45, 9.8)
    ax.set_ylim(0.075, 0.125)
    ax.set_xticks(XTICKS, [f"${t}$" for t in XTICK_LABELS])
    ax.set_yticks(YTICKS, [f"${t}$" for t in YTICK_LABELS])
    ax.tick_params(direction="out", length=7, width=1.6, labelsize=24, pad=8)
    for sp in ax.spines.values():
        sp.set_linewidth(1.6)
    ax.set_ylabel(r"$(\mathrm{He/H})_{\mathrm{gas}}$", fontsize=33, labelpad=16)
    ax.text(0.0415, 0.854,
            r"$\mathsf{" + PANEL_TAGS[i] + r"}\quad\mathsf{" + GALAXIES[i].replace(" ", r"\ ") + "}$",
            transform=ax.transAxes, fontsize=22.5, va="baseline", ha="left")
    if i == 2:
        ax.set_xlabel(r"$\log(\mathrm{O/H})_{\mathrm{gas}} + 12$", fontsize=33, labelpad=6)

leg = fig.legend(handles, [sf(s) for s in SERIES], loc="center",
                 bbox_to_anchor=(597.5 / W_PX, 1 - 49.5 / H_PX), ncol=2, markerscale=2.75,
                 fontsize=23.5, handlelength=2.25, handletextpad=0.31, columnspacing=2.1,
                 borderpad=0.4, fancybox=True, framealpha=1.0)
leg.get_frame().set_edgecolor("0.85")
leg.get_frame().set_linewidth(1.6)

fig.savefig("out.png", dpi=100)
